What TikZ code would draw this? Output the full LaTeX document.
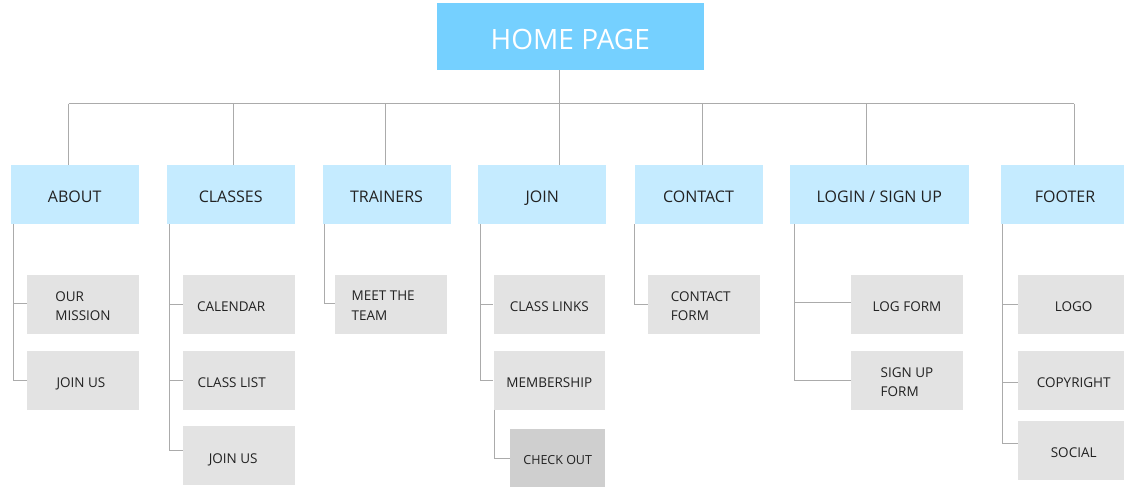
\documentclass[tikz,border=0pt]{standalone}
\usepackage{fontspec}
\setmainfont{Open Sans}

\definecolor{homeblue}{HTML}{75D0FF}
\definecolor{catblue}{HTML}{C5EBFF}
\definecolor{pagegray}{HTML}{E3E3E3}
\definecolor{subgray}{HTML}{CFCFCF}
\definecolor{wiregray}{HTML}{ABABAB}
\definecolor{inkgray}{HTML}{222222}

\begin{document}
\begin{tikzpicture}[x=1pt,y=-1pt,
    homebox/.style={fill=homeblue, text=white, minimum width=267pt,
        minimum height=66.7pt, text height=25pt, text depth=0pt,
        font=\fontsize{28}{32}\selectfont},
    sectionbox/.style={fill=catblue, text=inkgray, minimum width=128pt,
        minimum height=59pt, text height=15.4pt, text depth=0pt,
        font=\fontsize{16}{19}\selectfont},
    pagebox/.style={fill=pagegray, text=inkgray, minimum width=111.5pt,
        minimum height=58.7pt, text height=14.4pt, text depth=0pt,
        font=\fontsize{13.5}{19.3}\selectfont},
    twolines/.style={pagebox, align=left, text height=32pt},
    wire/.style={draw=wiregray, line width=0.8pt}]

    \useasboundingbox (0,0) rectangle (1124,487);

    % top level
    \node [homebox] (home) at (570.3,36.7) {HOME PAGE};

    % sections
    \node [sectionbox] (about) at (74.7,194.5) {ABOUT};
    \node [sectionbox] (classes) at (230.7,194.5) {CLASSES};
    \node [sectionbox] (trainers) at (386.5,194.5) {TRAINERS};
    \node [sectionbox] (join) at (542.3,194.5) {JOIN};
    \node [sectionbox] (contact) at (698.5,194.5) {CONTACT};
    \node [sectionbox, minimum width=178.7pt] (login) at (879.3,194.5) {LOGIN / SIGN UP};
    \node [sectionbox] (footer) at (1065,194.5) {FOOTER};

    % pages
    \node [twolines] (mission) at (83,304.3) {OUR\\MISSION};
    \node [pagebox] (aboutjoin) at (83,380.3) {JOIN US\hspace*{4pt}};

    \node [pagebox] (calendar) at (239.2,304.3) {CALENDAR\hspace*{16pt}};
    \node [pagebox] (classlist) at (239.2,380.3) {CLASS LIST\hspace*{15pt}};
    \node [pagebox] (classjoin) at (239.2,455.8) {JOIN US\hspace*{12pt}};

    \node [twolines] (team) at (391.2,304.2) {MEET THE\hspace*{16pt}\\TEAM};

    \node [pagebox] (links) at (549.3,304.3) {CLASS LINKS};
    \node [pagebox] (membership) at (549.3,380.3) {MEMBERSHIP};
    \node [pagebox, fill=subgray, minimum width=95.3pt, text height=12.4pt,
        font=\fontsize{12.5}{15}\selectfont] (checkout) at (557.7,458.3) {CHECK OUT};

    \node [twolines] (contactform) at (703.8,304.5) {CONTACT\hspace*{6pt}\\FORM};

    \node [pagebox] (logform) at (907,304.3) {LOG FORM};
    \node [twolines] (signupform) at (907,380.3) {SIGN UP\\FORM};

    \node [pagebox] (logo) at (1073.7,304.3) {LOGO};
    \node [pagebox] (copyright) at (1073.7,380.3) {COPYRIGHT};
    \node [pagebox] (social) at (1073.7,450.2) {SOCIAL};

    % bus under the home page
    \coordinate (bus) at (559,103.7);
    \coordinate (busleft) at (68.7,103.7);
    \coordinate (busright) at (1074,103.7);
    \draw [wire] (home.south -| bus) -- (bus);
    \draw [wire] (busleft) -- (busright);

    \foreach \s/\x in {about/68.7, classes/233, trainers/385.7, join/559,
        contact/702.3, login/866.7, footer/1074} {
        \coordinate (drop\s) at (\x,103.7);
        \draw [wire] (drop\s) -- (drop\s |- \s.north);
    }

    % stems down to the pages
    \foreach \s/\dx/\p/\dy in {about/2.6/mission/1, about/2.6/aboutjoin/0,
        classes/2.7/calendar/0, classes/2.7/classlist/0, classes/2.7/classjoin/5,
        trainers/2.4/team/1, join/2.4/links/0, join/2.4/membership/0,
        contact/0.4/contactform/0, login/4.7/logform/2, login/4.7/signupform/0,
        footer/1.7/logo/0, footer/1.7/copyright/-2, footer/1.7/social/7,
        membership/1/checkout/0} {
        \draw [wire] ([xshift=\dx pt]\s.south west) |- ([yshift=\dy pt]\p.west);
    }

\end{tikzpicture}
\end{document}
